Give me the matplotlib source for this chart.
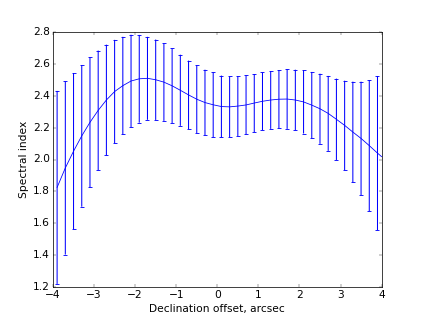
import numpy as np
import matplotlib
matplotlib.use("Agg")
import matplotlib.pyplot as plt

# declination offsets of the measurements (arcsec)
offset = [-3.9, -3.7, -3.5, -3.3, -3.1, -2.9, -2.7, -2.5, -2.3, -2.1,
          -1.9, -1.7, -1.5, -1.3, -1.1, -0.9, -0.7, -0.5, -0.3, -0.1,
          0.1, 0.3, 0.5, 0.7, 0.9, 1.1, 1.3, 1.5, 1.7, 1.9,
          2.1, 2.3, 2.5, 2.7, 2.9, 3.1, 3.3, 3.5, 3.7, 3.9]
# spectral index
alpha = [1.825, 1.947, 2.052, 2.148, 2.233, 2.308, 2.373, 2.426, 2.463, 2.492,
         2.506, 2.509, 2.500, 2.485, 2.462, 2.434, 2.405, 2.378, 2.357, 2.343,
         2.332, 2.330, 2.335, 2.342, 2.354, 2.365, 2.373, 2.378, 2.379, 2.373,
         2.361, 2.341, 2.318, 2.289, 2.252, 2.214, 2.172, 2.132, 2.087, 2.040]
# 1-sigma errors
alpha_err = [0.605, 0.543, 0.490, 0.444, 0.408, 0.375, 0.347, 0.324, 0.306, 0.290,
             0.275, 0.260, 0.252, 0.243, 0.234, 0.223, 0.215, 0.212, 0.206, 0.203,
             0.194, 0.191, 0.188, 0.185, 0.182, 0.181, 0.181, 0.183, 0.187, 0.190,
             0.198, 0.208, 0.220, 0.235, 0.255, 0.280, 0.316, 0.356, 0.411, 0.483]
# the fitted curve runs on to the right edge
edge_x, edge_y = 4.0, 2.018

plt.style.use("classic")
plt.rcParams["font.size"] = 14.5

fig = plt.figure(figsize=(8, 319 / 53.0), dpi=53)
ax = fig.add_axes([0.125, 0.1, 0.775, 0.8])

blue = "#0000ff"
lo = np.array(alpha) - np.array(alpha_err)
hi = np.array(alpha) + np.array(alpha_err)
bars = ax.vlines(offset, lo, hi, colors=blue, linewidth=1.4)
bars.set_snap(False)
for ends in (lo, hi):
    caps, = ax.plot(offset, ends, linestyle="none", marker="_", ms=6,
                    mew=1.2, mec=blue, color=blue)
    caps.set_snap(False)
ax.plot(offset + [edge_x], alpha + [edge_y], color=blue, lw=1.1)

ax.set_xlim(-4, 4)
ax.set_ylim(1.2, 2.8)
ax.tick_params(labelsize=14.5)
ax.set_xlabel("Declination offset, arcsec", fontsize=14.5)
ax.set_ylabel("Spectral index", fontsize=14.5)

fig.savefig("out.png", dpi=53)
